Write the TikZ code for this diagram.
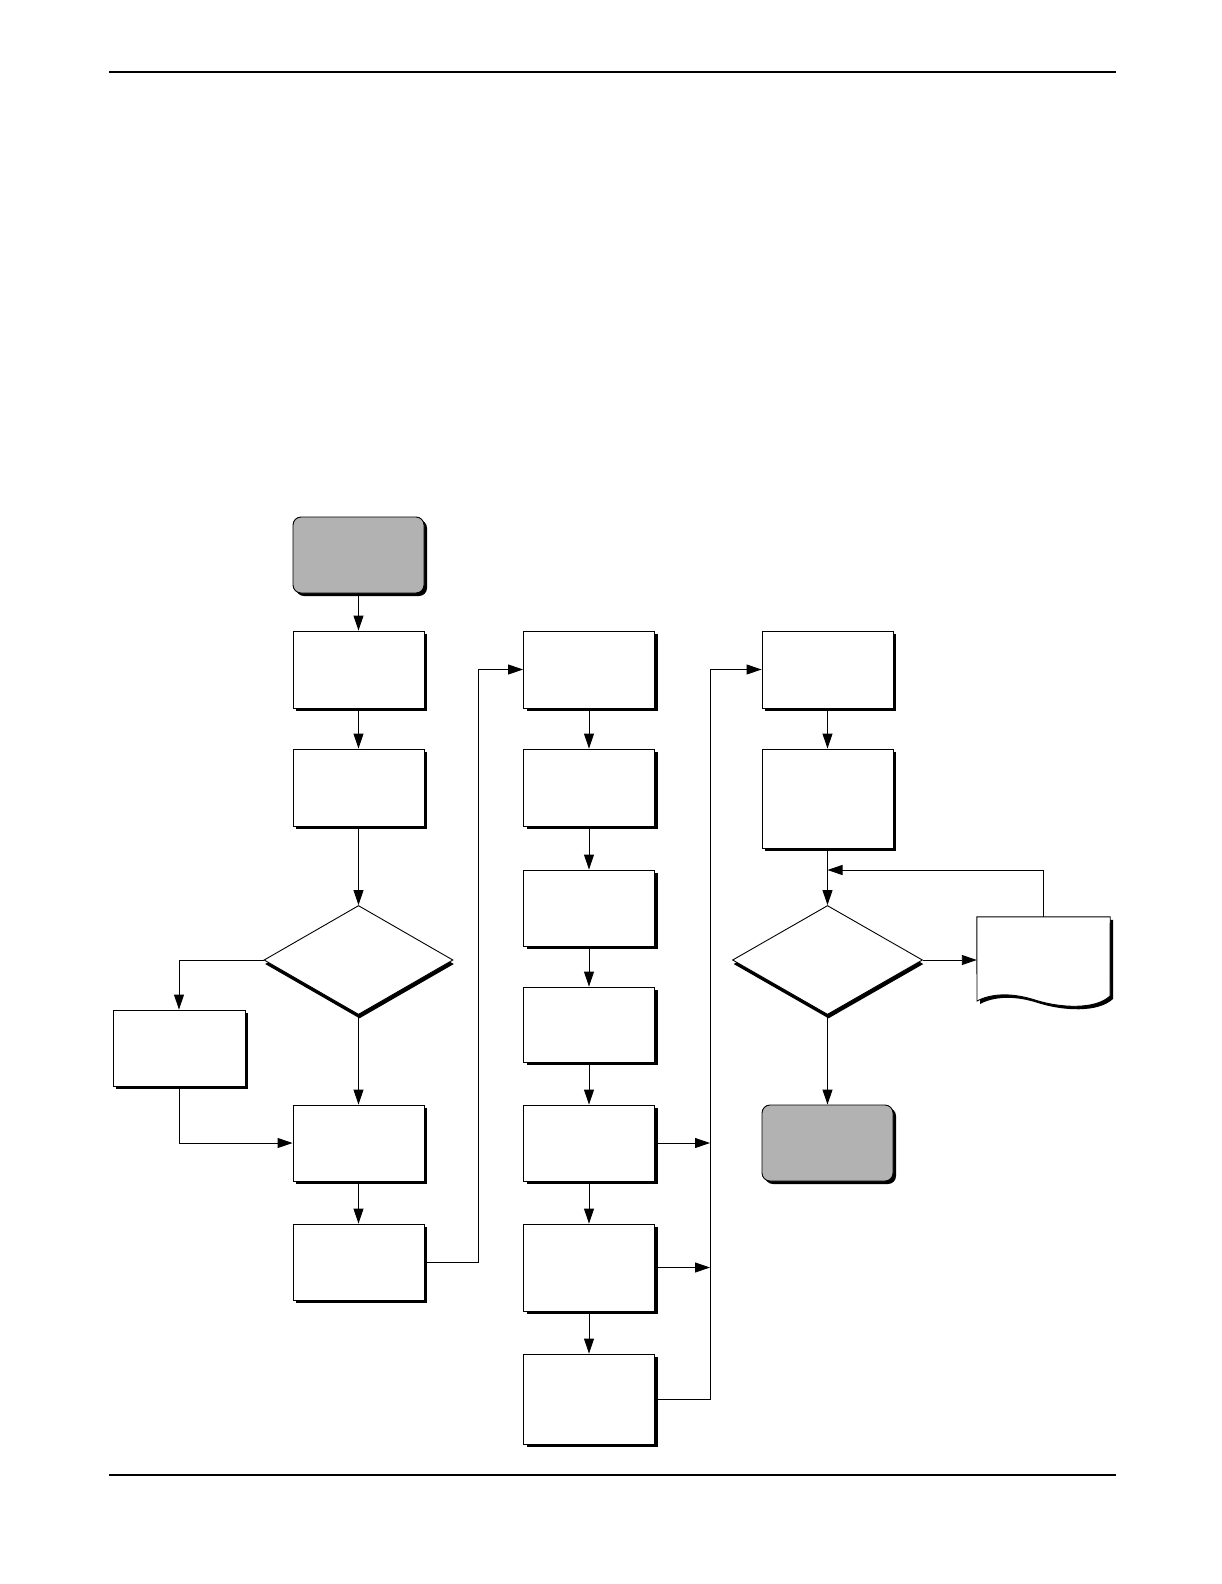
\documentclass[tikz,border=0pt]{standalone}
\usetikzlibrary{shapes.geometric,shadows,arrows.meta}
\begin{document}
\begin{tikzpicture}[x=1pt,y=-1pt,
  shd/.style={drop shadow={shadow xshift=3pt,shadow yshift=-3pt,fill=black,opacity=1}},
  procbox/.style={draw,fill=white,line width=0.9pt,inner sep=0pt,minimum width=131pt,shd},
  termbox/.style={procbox,fill=black!30,rounded corners=8pt},
  decbox/.style={diamond,draw,fill=white,line width=0.9pt,inner sep=0pt,minimum width=189pt,minimum height=109pt,
     drop shadow={shadow xshift=1pt,shadow yshift=-4pt,fill=black,opacity=1}},
  conn/.style={line width=0.9pt,-{Triangle[length=15pt,width=10pt]}},
  rule/.style={line width=1.2pt}]
\useasboundingbox (0,0) rectangle (1222,1584);
\draw[rule] (109,72) -- (1116,72);
\draw[rule] (109,1475) -- (1116,1475);
% column 1
\node[termbox,minimum height=76pt] (s1) at (358.5,555) {};
\node[procbox,minimum height=77pt] (a1) at (358.5,669.5) {};
\node[procbox,minimum height=77pt] (a2) at (358.5,787.5) {};
\node[decbox] (d1) at (358.5,960) {};
\node[procbox,minimum height=76pt,minimum width=132pt] (lb) at (179,1048) {};
\node[procbox,minimum height=76pt] (a3) at (358.5,1143) {};
\node[procbox,minimum height=76pt] (a4) at (358.5,1262) {};
% column 2
\node[procbox,minimum height=77pt] (b1) at (589,669.5) {};
\node[procbox,minimum height=77pt] (b2) at (589,787.5) {};
\node[procbox,minimum height=76pt] (b3) at (589,908) {};
\node[procbox,minimum height=75pt] (b4) at (589,1024.5) {};
\node[procbox,minimum height=76pt] (b5) at (589,1143) {};
\node[procbox,minimum height=87pt] (b6) at (589,1267.5) {};
\node[procbox,minimum height=90pt] (b7) at (589,1399) {};
% column 3
\node[procbox,minimum height=77pt] (c1) at (827.5,669.5) {};
\node[procbox,minimum height=99pt] (c2) at (827.5,798.5) {};
\node[decbox,minimum width=190pt] (d2) at (827.5,960) {};
\node[termbox,minimum height=76pt] (e) at (827.5,1143) {};
% document
\node[inner sep=0pt,minimum width=133pt,minimum height=86pt] (doc) at (1043.5,960) {};
\draw[line width=0.9pt,fill=white,shd] (doc.north west) -- (doc.north east) -- (1110,996)
  .. controls (1095,1010) and (1060,1008) .. (1035,1000)
  .. controls (1010,992) and (990,994) .. (977,1001) -- cycle;
\coordinate (bus) at (710,669.5);
\coordinate (mrg) at (827.5,870);
% connectors
\draw[conn] (s1) -- (a1);
\draw[conn] (a1) -- (a2);
\draw[conn] (a2) -- (d1.north);
\draw[conn] (d1.west) -| (lb.north);
\draw[conn] (lb.south) |- (a3.west);
\draw[conn] (d1.south) -- (a3.north);
\draw[conn] (a3) -- (a4);
\draw[conn] (a4.east) -- ++(54,0) |- (b1.west);
\draw[conn] (b1) -- (b2);
\draw[conn] (b2) -- (b3);
\draw[conn] (b3) -- (b4);
\draw[conn] (b4) -- (b5);
\draw[conn] (b5) -- (b6);
\draw[conn] (b6) -- (b7);
\draw[conn] (b5.east) -- (b5.east -| bus);
\draw[conn] (b6.east) -- (b6.east -| bus);
\draw[conn] (b7.east) -| (bus) -- (c1.west);
\draw[conn] (c1) -- (c2);
\draw[conn] (c2.south) -- (d2.north);
\draw[conn] (d2.east) -- (doc.west);
\draw[conn] (d2.south) -- (e.north);
\draw[conn] (doc.north) |- (mrg);
\end{tikzpicture}
\end{document}
